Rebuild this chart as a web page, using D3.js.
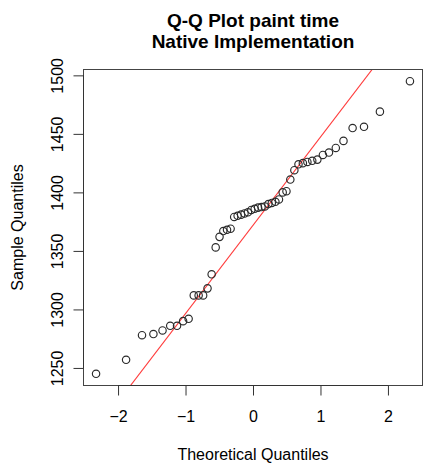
<!DOCTYPE html>
<html>
<head>
<meta charset="utf-8">
<script src="https://cdn.jsdelivr.net/npm/d3@7"></script>
<style>
body { margin: 0; background: #fff; }
text { font-family: "Liberation Sans", Arial, Helvetica, sans-serif; fill: #000; }
</style>
</head>
<body>
<div id="vis"></div>
<script>
// normal quantiles for n = 50
const theoretical = [
	-2.326, -1.881, -1.645, -1.476, -1.341, -1.227, -1.126, -1.036, -0.954, -0.878,
	-0.806, -0.739, -0.674, -0.613, -0.553, -0.496, -0.440, -0.385, -0.332, -0.279,
	-0.228, -0.176, -0.126, -0.075, -0.025, 0.025, 0.075, 0.126, 0.176, 0.228,
	0.279, 0.332, 0.385, 0.440, 0.496, 0.553, 0.613, 0.674, 0.739, 0.806,
	0.878, 0.954, 1.036, 1.126, 1.227, 1.341, 1.476, 1.645, 1.881, 2.326
];
// paint times (sorted sample)
const sample = [
	1245, 1257, 1278, 1279, 1282, 1286, 1286, 1290, 1292, 1312,
	1312, 1312, 1318, 1330, 1353, 1362, 1367, 1368, 1369, 1379,
	1380, 1381, 1382, 1383, 1385, 1386, 1387, 1387.5, 1388, 1390,
	1391, 1392, 1394, 1400, 1401, 1411, 1419, 1424, 1425, 1426,
	1427, 1428, 1432, 1434, 1438, 1444, 1455, 1456, 1469, 1495
];
const xTicks = [-2, -1, 0, 1, 2];
const yTicks = [1250, 1300, 1350, 1400, 1450, 1500];
const titleLines = ["Q-Q Plot paint time", "Native Implementation"];
const xTitle = "Theoretical Quantiles";
const yTitle = "Sample Quantiles";

const W = 423, H = 468;
const plotL = 83.5, plotR = 422.5, plotT = 69.5, plotB = 385.5;

const svg = d3.select("#vis").append("svg")
	.attr("width", W)
	.attr("height", H);

// R style: extend data range by 4% each side
const pad = (ext) => {
	const d = (ext[1] - ext[0]) * 0.04;
	return [ext[0] - d, ext[1] + d];
};
const x = d3.scaleLinear().domain(pad(d3.extent(theoretical))).range([plotL, plotR]);
const y = d3.scaleLinear().domain(pad(d3.extent(sample))).range([plotB, plotT]);

svg.append("clipPath").attr("id", "plotClip")
	.append("rect")
	.attr("x", plotL).attr("y", plotT)
	.attr("width", plotR - plotL).attr("height", plotB - plotT);

// qqline through the quartiles
const q1 = d3.quantile(sample, 0.25), q3 = d3.quantile(sample, 0.75);
const z1 = -0.6745, z3 = 0.6745;
const slope = (q3 - q1) / (z3 - z1);
const intercept = q1 - slope * z1;
const xd = x.domain();

svg.append("line")
	.attr("clip-path", "url(#plotClip)")
	.attr("x1", x(xd[0])).attr("y1", y(intercept + slope * xd[0]))
	.attr("x2", x(xd[1])).attr("y2", y(intercept + slope * xd[1]))
	.attr("stroke", "#ff3b3b")
	.attr("stroke-width", 1.1);

svg.append("g")
	.selectAll("circle")
	.data(theoretical.map((t, i) => [t, sample[i]]))
	.enter()
	.append("circle")
	.attr("cx", d => x(d[0]))
	.attr("cy", d => y(d[1]))
	.attr("r", 3.7)
	.attr("fill", "none")
	.attr("stroke", "#2a2a2a")
	.attr("stroke-width", 1.15);

// box
svg.append("rect")
	.attr("x", plotL).attr("y", plotT)
	.attr("width", plotR - plotL).attr("height", plotB - plotT)
	.attr("fill", "none")
	.attr("stroke", "#444")
	.attr("stroke-width", 1);

// axes
const xAxis = svg.append("g")
	.attr("transform", `translate(0,${plotB})`)
	.call(d3.axisBottom(x).tickValues(xTicks).tickSize(10).tickPadding(0).tickFormat(d3.format("d")));
xAxis.select(".domain")
	.attr("d", `M${x(xTicks[0])},0H${x(xTicks[xTicks.length - 1])}`)
	.attr("stroke", "#333");
xAxis.selectAll(".tick line").attr("stroke", "#333").attr("y2", 10);
xAxis.selectAll(".tick text")
	.attr("y", 36)
	.attr("dy", null)
	.style("font-size", "16px")
	.style("font-family", "'Liberation Sans', Arial, sans-serif")
	.attr("fill", "#000");

const yAxis = svg.append("g")
	.attr("transform", `translate(${plotL},0)`)
	.call(d3.axisLeft(y).tickValues(yTicks).tickSize(10).tickFormat(d3.format("d")));
yAxis.select(".domain")
	.attr("d", `M0,${y(yTicks[0])}V${y(yTicks[yTicks.length - 1])}`)
	.attr("stroke", "#333");
yAxis.selectAll(".tick line").attr("stroke", "#333");
yAxis.selectAll(".tick text")
	.attr("x", null)
	.attr("dy", null)
	.attr("text-anchor", "middle")
	.attr("transform", "translate(-21,0) rotate(-90)")
	.style("font-size", "16px")
	.style("font-family", "'Liberation Sans', Arial, sans-serif")
	.attr("fill", "#000");

// titles
svg.append("g")
	.selectAll("text")
	.data(titleLines)
	.enter()
	.append("text")
	.attr("x", (plotL + plotR) / 2)
	.attr("y", (d, i) => 27 + i * 20.5)
	.attr("text-anchor", "middle")
	.style("font-size", "19px")
	.style("font-weight", "bold")
	.text(d => d);

svg.append("text")
	.attr("x", (plotL + plotR) / 2)
	.attr("y", 460)
	.attr("text-anchor", "middle")
	.style("font-size", "16px")
	.text(xTitle);

svg.append("text")
	.attr("transform", `translate(23,${(plotT + plotB) / 2}) rotate(-90)`)
	.attr("text-anchor", "middle")
	.style("font-size", "16px")
	.text(yTitle);
</script>
</body>
</html>
